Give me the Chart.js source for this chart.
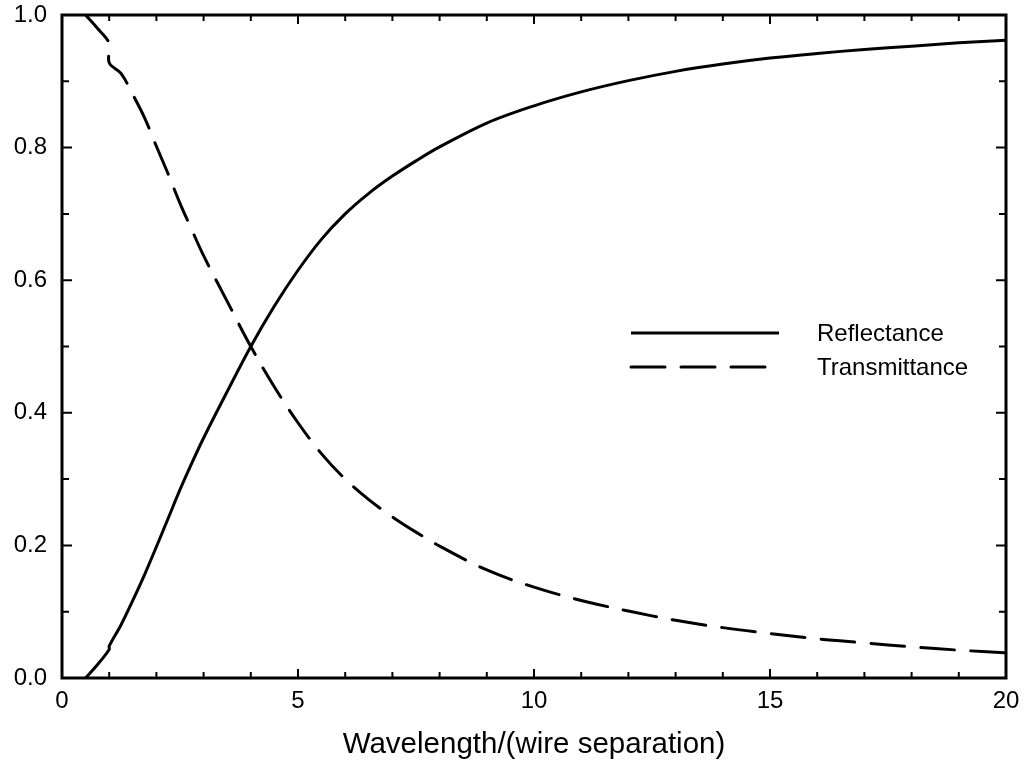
<!DOCTYPE html>
<html>
<head>
<meta charset="utf-8">
<script src="https://cdn.jsdelivr.net/npm/chart.js@4.4.1/dist/chart.umd.min.js"></script>
<style>
  html, body { margin: 0; padding: 0; background: #ffffff; }
  #wrap { width: 1024px; height: 780px; }
</style>
</head>
<body>
<div id="wrap"><canvas id="c" width="1024" height="780"></canvas></div>
<script>
// ---- data ----
const xValues = [0.5, 0.75, 1.0, 1.0, 1.25, 1.5, 1.75, 2.0, 2.25, 2.5, 2.75, 3.0, 3.5, 4.0, 4.5, 5.0, 5.5, 6.0, 6.5, 7.0, 7.5, 8.0, 9.0, 10.0, 11.0, 12.0, 13.0, 14.0, 15.0, 16.0, 17.0, 18.0, 19.0, 20.0];
const reflectance = [0.0, 0.02, 0.043, 0.048, 0.080, 0.117, 0.156, 0.198, 0.241, 0.284, 0.324, 0.362, 0.432, 0.500, 0.561, 0.615, 0.662, 0.700, 0.731, 0.757, 0.780, 0.801, 0.837, 0.863, 0.884, 0.901, 0.915, 0.926, 0.935, 0.942, 0.948, 0.953, 0.958, 0.962];
const transmittance = [1.0, 0.98, 0.957, 0.928, 0.912, 0.880, 0.845, 0.802, 0.760, 0.716, 0.676, 0.637, 0.568, 0.500, 0.439, 0.385, 0.338, 0.300, 0.269, 0.243, 0.220, 0.199, 0.163, 0.137, 0.117, 0.101, 0.087, 0.076, 0.067, 0.059, 0.053, 0.047, 0.042, 0.038];
const seriesNames = ["Reflectance", "Transmittance"];
const xTickLabels = ["0", "5", "10", "15", "20"];
const yTickLabels = ["0.0", "0.2", "0.4", "0.6", "0.8", "1.0"];
const xTitle = "Wavelength/(wire separation)";

const FONT = '"Liberation Sans", Arial, sans-serif';
const toPoints = (ys) => xValues.map((x, i) => ({ x: x, y: ys[i] }));

// frame + inward ticks on all four sides
const framePlugin = {
  id: 'frame',
  afterDatasetsDraw(chart) {
    const { ctx, chartArea: a, scales } = chart;
    const xs = scales.x, ys = scales.y;
    ctx.save();
    ctx.strokeStyle = '#000';
    ctx.lineWidth = 2;
    for (let v = 0; v <= 20; v += 1) {
      const px = xs.getPixelForValue(v);
      const len = (v % 5 === 0) ? 9 : 6;
      ctx.beginPath();
      ctx.moveTo(px, a.top); ctx.lineTo(px, a.top + len);
      ctx.moveTo(px, a.bottom); ctx.lineTo(px, a.bottom - len);
      ctx.stroke();
    }
    for (let k = 0; k <= 10; k += 1) {
      const py = ys.getPixelForValue(k / 10);
      const len = (k % 2 === 0) ? 10 : 7;
      ctx.beginPath();
      ctx.moveTo(a.left, py); ctx.lineTo(a.left + len, py);
      ctx.moveTo(a.right, py); ctx.lineTo(a.right - len, py);
      ctx.stroke();
    }
    ctx.lineWidth = 3;
    ctx.strokeRect(a.left, a.top, a.right - a.left, a.bottom - a.top);
    ctx.restore();
  }
};

// legend inside the plot
const legendPlugin = {
  id: 'innerLegend',
  afterDatasetsDraw(chart) {
    const { ctx } = chart;
    ctx.save();
    chart.data.datasets.forEach((ds, i) => {
      const y = 333 + i * 34;
      ctx.strokeStyle = ds.borderColor;
      ctx.lineWidth = ds.borderWidth;
      ctx.lineCap = ds.borderCapStyle || 'butt';
      ctx.setLineDash(ds.borderDash || []);
      ctx.beginPath();
      ctx.moveTo(631, y); ctx.lineTo(779, y);
      ctx.stroke();
      ctx.setLineDash([]);
      ctx.fillStyle = '#000';
      ctx.font = '24px ' + FONT;
      ctx.textBaseline = 'middle';
      ctx.textAlign = 'left';
      ctx.fillText(ds.label, 817, y + 1);
    });
    ctx.restore();
  }
};

new Chart(document.getElementById('c'), {
  type: 'line',
  data: {
    datasets: [
      {
        label: seriesNames[0],
        data: toPoints(reflectance),
        borderColor: '#000',
        borderWidth: 3,
        pointRadius: 0,
        tension: 0.35,
        fill: false
      },
      {
        label: seriesNames[1],
        data: toPoints(transmittance),
        borderColor: '#000',
        borderWidth: 3,
        borderDash: [34, 16],
        borderCapStyle: 'round',
        pointRadius: 0,
        tension: 0.35,
        fill: false
      }
    ]
  },
  options: {
    responsive: false,
    animation: false,
    devicePixelRatio: 1,
    layout: { padding: { left: 0, top: 15, right: 18, bottom: 0 } },
    plugins: { legend: { display: false }, tooltip: { enabled: false } },
    scales: {
      x: {
        type: 'linear',
        min: 0, max: 20,
        grid: { display: false, drawTicks: false },
        border: { display: false },
        ticks: {
          stepSize: 5,
          padding: 9,
          color: '#000',
          font: { family: FONT, size: 24 },
          maxRotation: 0,
          callback: (v) => xTickLabels[Math.round(v / 5)]
        },
        title: {
          display: true,
          text: xTitle,
          color: '#000',
          font: { family: FONT, size: 29.5 },
          padding: { top: 0, bottom: 17 }
        },
        afterFit: (s) => { s.height = 102; s.paddingLeft = 0; s.paddingRight = 0; }
      },
      y: {
        type: 'linear',
        min: 0, max: 1,
        grid: { display: false, drawTicks: false },
        border: { display: false },
        ticks: {
          stepSize: 0.2,
          padding: 15,
          color: '#000',
          font: { family: FONT, size: 24 },
          callback: (v) => yTickLabels[Math.round(v / 0.2)]
        },
        afterFit: (s) => { s.width = 62; s.paddingTop = 0; s.paddingBottom = 0; }
      }
    }
  },
  plugins: [framePlugin, legendPlugin]
});
</script>
</body>
</html>
